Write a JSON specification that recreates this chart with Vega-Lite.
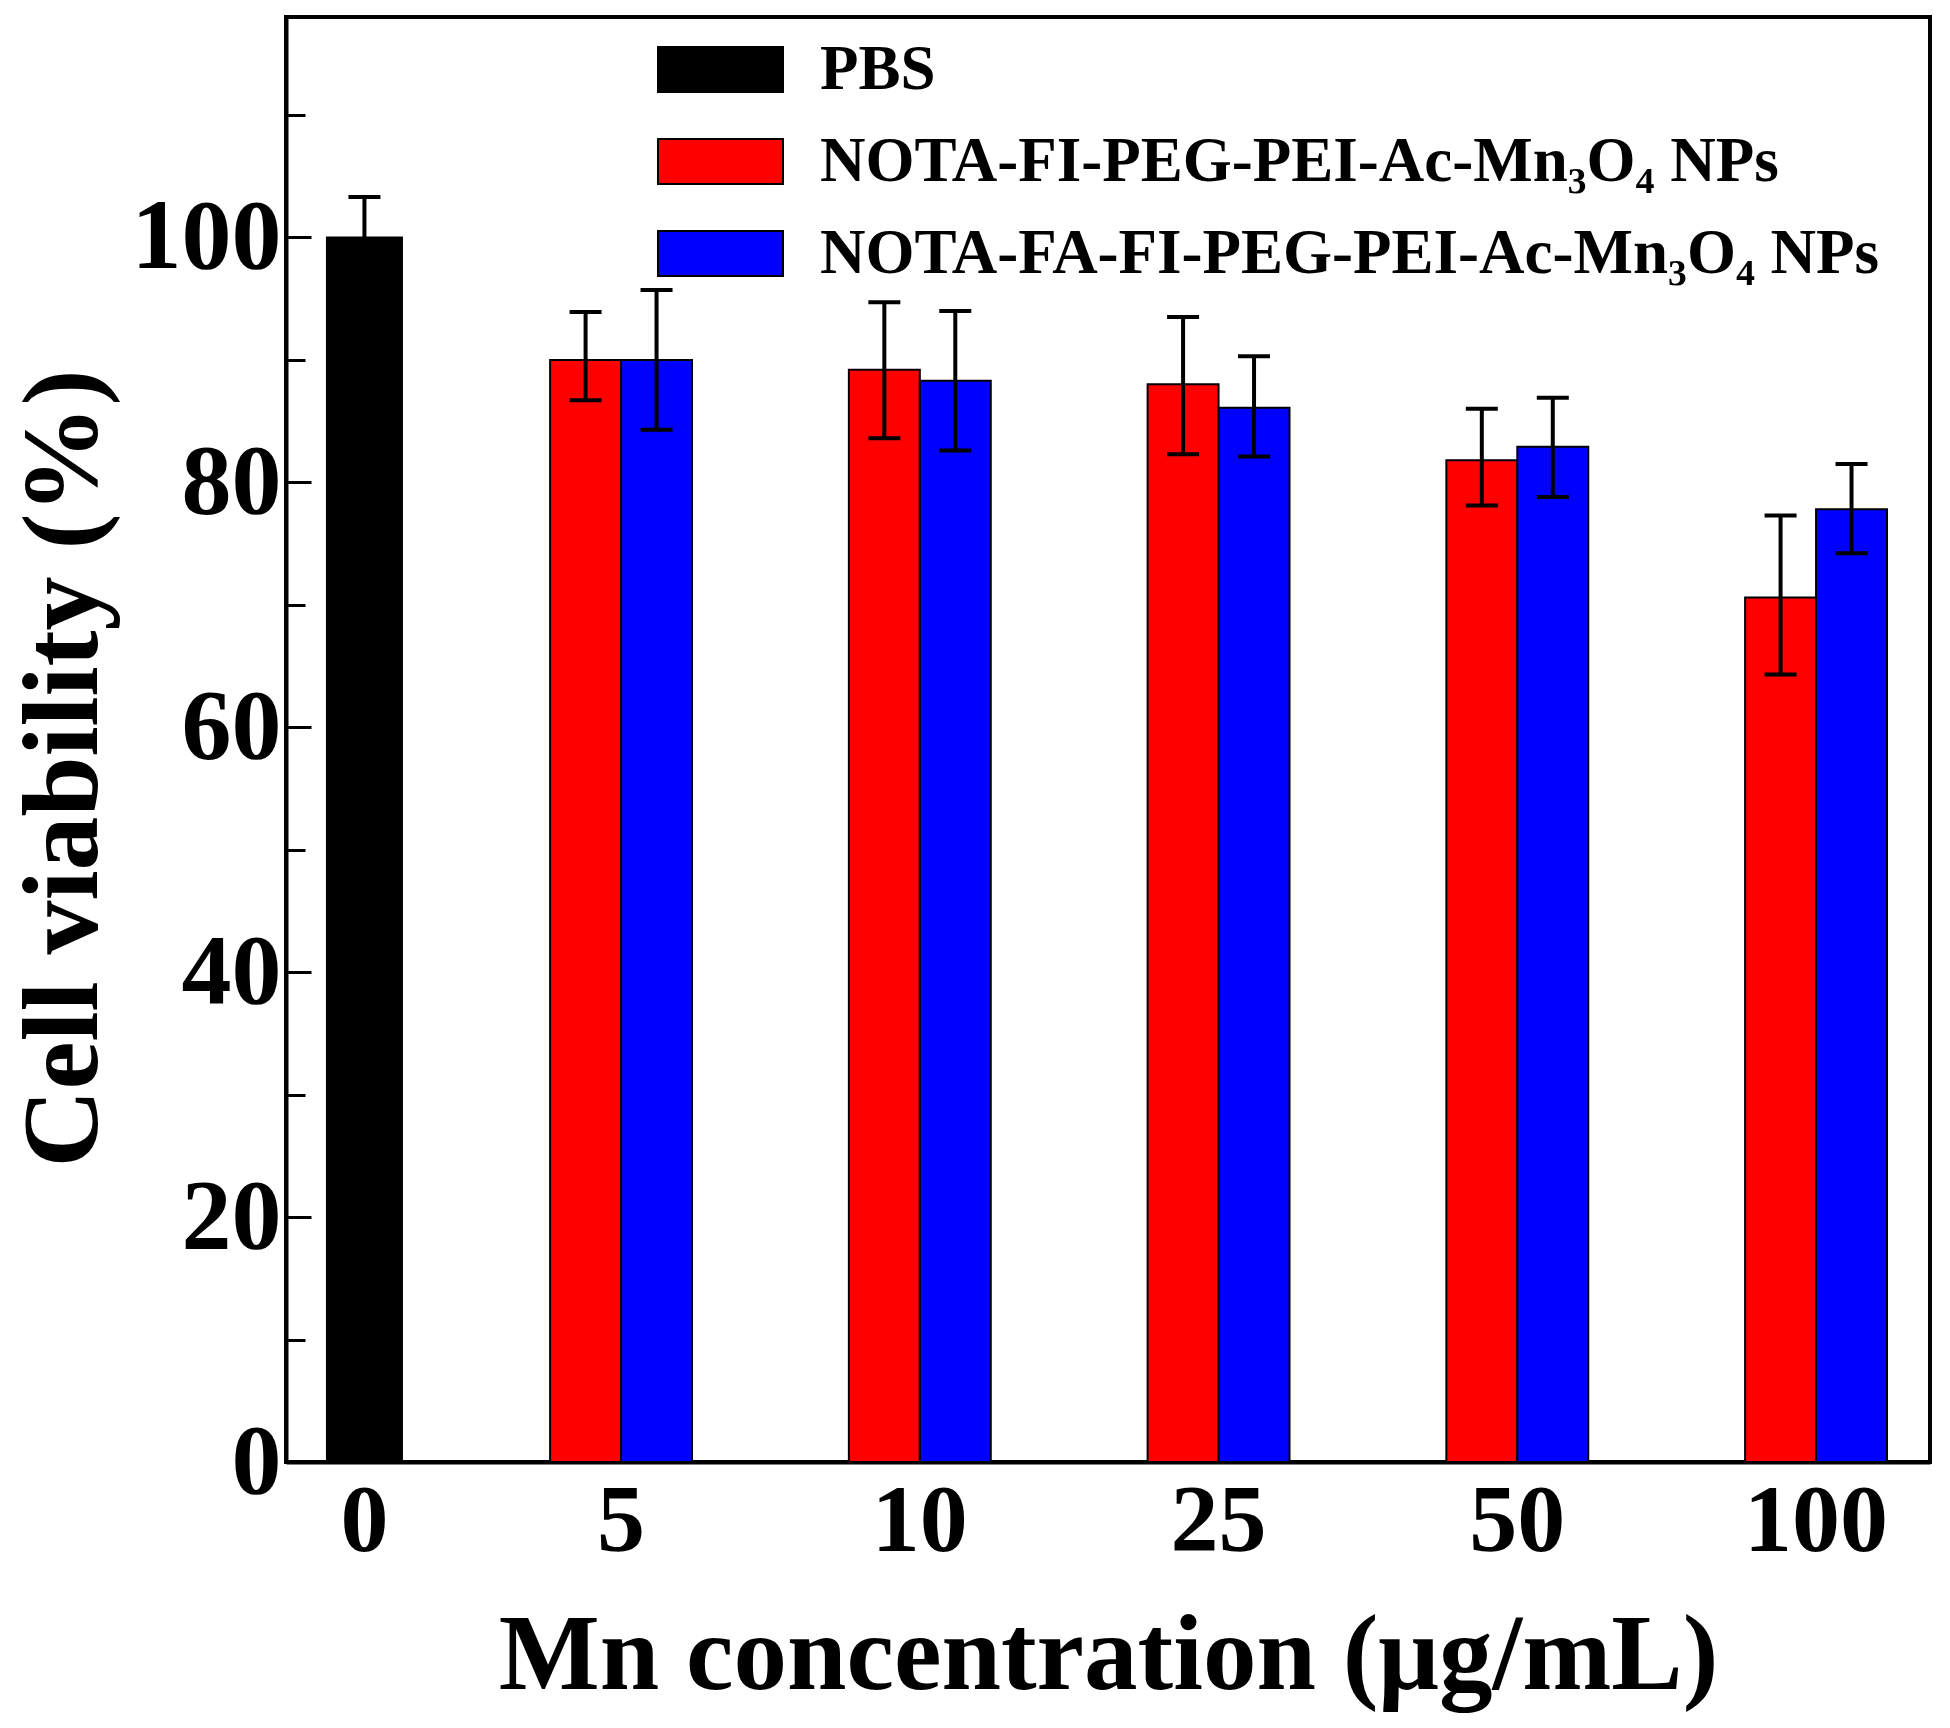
{
  "$schema": "https://vega.github.io/schema/vega-lite/v6.json",
  "width": 1644,
  "height": 1445,
  "autosize": {"type": "none"},
  "padding": {"left": 286, "top": 17, "right": 20, "bottom": 266},
  "background": "white",
  "config": {
    "view": {"stroke": "black", "strokeWidth": 4},
    "font": "Liberation Serif",
    "axis": {
      "grid": false,
      "labelFont": "Liberation Serif",
      "labelFontWeight": "bold",
      "titleFont": "Liberation Serif",
      "titleFontWeight": "bold",
      "labelColor": "black",
      "titleColor": "black",
      "domainColor": "black",
      "tickColor": "black"
    }
  },
  "datasets": {
    "nps": [
      {"conc": "5", "series": "NOTA-FI-PEG-PEI-Ac-Mn₃O₄ NPs", "mean": 90.0, "lo": 86.7, "hi": 93.9},
      {"conc": "5", "series": "NOTA-FA-FI-PEG-PEI-Ac-Mn₃O₄ NPs", "mean": 90.0, "lo": 84.3, "hi": 95.7},
      {"conc": "10", "series": "NOTA-FI-PEG-PEI-Ac-Mn₃O₄ NPs", "mean": 89.2, "lo": 83.6, "hi": 94.7},
      {"conc": "10", "series": "NOTA-FA-FI-PEG-PEI-Ac-Mn₃O₄ NPs", "mean": 88.3, "lo": 82.6, "hi": 94.0},
      {"conc": "25", "series": "NOTA-FI-PEG-PEI-Ac-Mn₃O₄ NPs", "mean": 88.0, "lo": 82.3, "hi": 93.5},
      {"conc": "25", "series": "NOTA-FA-FI-PEG-PEI-Ac-Mn₃O₄ NPs", "mean": 86.1, "lo": 82.1, "hi": 90.3},
      {"conc": "50", "series": "NOTA-FI-PEG-PEI-Ac-Mn₃O₄ NPs", "mean": 81.8, "lo": 78.1, "hi": 86.0},
      {"conc": "50", "series": "NOTA-FA-FI-PEG-PEI-Ac-Mn₃O₄ NPs", "mean": 82.9, "lo": 78.8, "hi": 86.9},
      {"conc": "100", "series": "NOTA-FI-PEG-PEI-Ac-Mn₃O₄ NPs", "mean": 70.6, "lo": 64.3, "hi": 77.3},
      {"conc": "100", "series": "NOTA-FA-FI-PEG-PEI-Ac-Mn₃O₄ NPs", "mean": 77.8, "lo": 74.2, "hi": 81.5}
    ],
    "pbs": [
      {"conc": "0", "series": "PBS", "mean": 100.0, "lo": 96.7, "hi": 103.3}
    ]
  },
  "layer": [
    {
      "data": {"name": "nps"},
      "encoding": {
        "x": {
          "field": "conc",
          "type": "nominal",
          "sort": null,
          "scale": {"domain": ["5", "10", "25", "50", "100"], "paddingInner": 0.525, "paddingOuter": 0.514, "align": 0.86},
          "axis": {
            "orient": "bottom",
            "labelAngle": 0,
            "labelFontSize": 96,
            "labelPadding": 12,
            "ticks": false,
            "domain": true,
            "domainWidth": 4,
            "title": "Mn concentration (μg/mL)",
            "titleFontSize": 107,
            "titleY": 226,
            "titleBaseline": "alphabetic"
          }
        },
        "xOffset": {
          "field": "series",
          "type": "nominal",
          "scale": {"domain": ["NOTA-FI-PEG-PEI-Ac-Mn₃O₄ NPs", "NOTA-FA-FI-PEG-PEI-Ac-Mn₃O₄ NPs"], "paddingInner": 0, "paddingOuter": 0}
        }
      },
      "layer": [
        {
          "mark": {"type": "bar", "stroke": "black", "strokeWidth": 2},
          "encoding": {
            "y": {
              "field": "mean",
              "type": "quantitative",
              "scale": {"domain": [0, 118], "nice": false},
              "axis": {
                "orient": "left",
                "values": [0, 10, 20, 30, 40, 50, 60, 70, 80, 90, 100, 110],
                "labelExpr": "datum.value % 20 == 0 ? datum.label : ''",
                "tickSize": {"condition": {"test": "datum.value % 20 == 0", "value": -25}, "value": -19},
                "tickWidth": 3,
                "domain": true,
                "domainWidth": 4,
                "labelFontSize": 100,
                "labelPadding": 30,
                "title": "Cell viability (%)",
                "titleFontSize": 108,
                "titleAngle": -90,
                "titleX": -190,
                "titleY": 751,
                "titleAlign": "center",
                "titleBaseline": "alphabetic"
              }
            },
            "fill": {
              "field": "series",
              "type": "nominal",
              "scale": {
                "domain": ["PBS", "NOTA-FI-PEG-PEI-Ac-Mn₃O₄ NPs", "NOTA-FA-FI-PEG-PEI-Ac-Mn₃O₄ NPs"],
                "range": ["#000000", "#FF0000", "#0000FF"]
              },
              "legend": {
                "orient": "none",
                "legendX": 402,
                "legendY": 20,
                "title": null,
                "symbolType": "M-2,-0.72H2V0.72H-2Z",
                "symbolSize": 3906,
                "symbolStrokeColor": "black",
                "symbolStrokeWidth": 2,
                "symbolOpacity": 1,
                "labelFont": "Liberation Serif",
                "labelFontWeight": "bold",
                "labelFontSize": 63,
                "labelColor": "black",
                "labelOffset": 67,
                "labelLimit": 2000,
                "rowPadding": 27,
                "padding": 0
              }
            }
          }
        },
        {
          "mark": {"type": "rule", "strokeWidth": 4, "color": "black"},
          "encoding": {
            "y": {"field": "lo", "type": "quantitative", "title": "Cell viability (%)"},
            "y2": {"field": "hi"}
          }
        },
        {
          "mark": {"type": "tick", "thickness": 4, "size": 32, "color": "black", "opacity": 1},
          "encoding": {"y": {"field": "hi", "type": "quantitative", "title": "Cell viability (%)"}}
        },
        {
          "mark": {"type": "tick", "thickness": 4, "size": 32, "color": "black", "opacity": 1},
          "encoding": {"y": {"field": "lo", "type": "quantitative", "title": "Cell viability (%)"}}
        }
      ]
    },
    {
      "data": {"name": "pbs"},
      "encoding": {
        "x": {
          "field": "conc",
          "type": "nominal",
          "sort": null,
          "scale": {"domain": ["0"], "paddingInner": 0.9044, "paddingOuter": 1, "align": 0.0261},
          "axis": {
            "orient": "bottom",
            "labelAngle": 0,
            "labelFontSize": 96,
            "labelPadding": 12,
            "ticks": false,
            "domain": false,
            "title": null
          }
        }
      },
      "layer": [
        {
          "mark": {"type": "bar", "stroke": "black", "strokeWidth": 2},
          "encoding": {
            "y": {"field": "mean", "type": "quantitative", "scale": {"domain": [0, 118], "nice": false}, "title": "Cell viability (%)"},
            "fill": {
              "field": "series",
              "type": "nominal",
              "scale": {
                "domain": ["PBS", "NOTA-FI-PEG-PEI-Ac-Mn₃O₄ NPs", "NOTA-FA-FI-PEG-PEI-Ac-Mn₃O₄ NPs"],
                "range": ["#000000", "#FF0000", "#0000FF"]
              }
            }
          }
        },
        {
          "mark": {"type": "rule", "strokeWidth": 4, "color": "black"},
          "encoding": {
            "y": {"field": "lo", "type": "quantitative", "title": "Cell viability (%)"},
            "y2": {"field": "hi"}
          }
        },
        {
          "mark": {"type": "tick", "thickness": 4, "size": 32, "color": "black", "opacity": 1},
          "encoding": {"y": {"field": "hi", "type": "quantitative", "title": "Cell viability (%)"}}
        }
      ]
    }
  ],
  "resolve": {
    "scale": {"x": "independent"},
    "axis": {"x": "independent"}
  }
}
